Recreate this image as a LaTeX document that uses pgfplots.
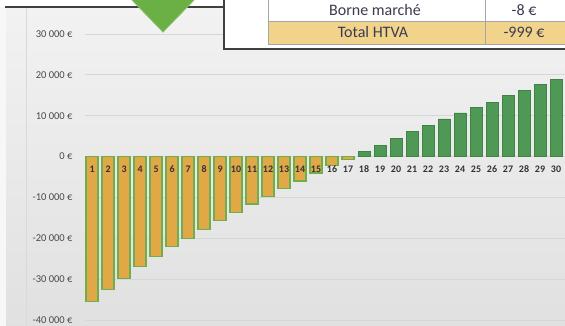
\documentclass[border=0pt]{standalone}
\usepackage{pgfplots}
\pgfplotsset{compat=1.18}
\usepackage{fontspec}
\setmainfont{Carlito}

\definecolor{barorange}{HTML}{E0A847}
\definecolor{baredge}{HTML}{6FAE4E}
\definecolor{bargreen}{HTML}{4F9856}
\definecolor{bargreenedge}{HTML}{3F8447}
\definecolor{gridgray}{HTML}{D6D6D6}
\definecolor{labelgray}{HTML}{4A4A4A}
\definecolor{tabletan}{HTML}{F2D38C}
\definecolor{tabletext}{HTML}{3B3B4F}
\definecolor{arrowgreen}{HTML}{6BB045}

\pgfplotsset{
  chartbox/.style={
    at={(85pt,6pt)}, anchor=south west,
    scale only axis, width=480pt, height=286pt,
    xmin=0.56, xmax=30.56, ymin=-40000, ymax=30000,
    axis line style={draw=none},
    major tick length=0pt,
    scaled y ticks=false,
  },
}

\begin{document}
\begin{tikzpicture}[x=1pt,y=1pt]
\useasboundingbox (0,0) rectangle (565,326);
\begin{scope}
\clip (0,0) rectangle (565,326);
% chart background
\shade[top color=white!95!black, bottom color=white!88!black] (0,0) rectangle (565,326);
\fill[white!97!black] (0,0) rectangle (6,319);
\draw[white!85!black, line width=0.6pt] (26,0) -- (26,319);

% bars, grid and euro labels
\begin{axis}[
  chartbox,
  ymajorgrids, grid style={gridgray, line width=0.8pt},
  ytick={-40000,-30000,-20000,-10000,0,10000,20000,30000},
  yticklabels={-40~000~€,-30~000~€,-20~000~€,-10~000~€,0~€,10~000~€,20~000~€,30~000~€},
  yticklabel style={font=\fontsize{10.5}{11}\selectfont, text=labelgray, anchor=east, xshift=-9pt},
  xtick=\empty,
  ybar, bar width=12pt,
]
\addplot[bar shift=0pt, fill=barorange, draw=baredge, line width=1.2pt] coordinates {
  (1,-35400) (2,-32600) (3,-29800) (4,-27000) (5,-24400) (6,-22100)
  (7,-20100) (8,-17800) (9,-15700) (10,-13700) (11,-11600) (12,-9800)
  (13,-7800) (14,-6000) (15,-4000) (16,-2200) (17,-700)};
\addplot[bar shift=0pt, fill=bargreen, draw=bargreenedge, line width=0.6pt] coordinates {
  (18,1300) (19,2800) (20,4500) (21,6100) (22,7600) (23,9200) (24,10700)
  (25,12000) (26,13300) (27,14900) (28,16200) (29,17600) (30,18800)};
\end{axis}

% category numbers on the zero line, drawn over the bars
\begin{axis}[
  chartbox,
  axis x line*=middle, axis y line=none,
  hide obscured x ticks=false,
  ytick=\empty,
  xtick={1,...,30},
  xticklabels={1,2,3,4,5,6,7,8,9,10,11,12,13,14,15,16,17,18,19,20,21,22,23,24,25,26,27,28,29,30},
  xticklabel style={font=\fontsize{10}{11}\selectfont\bfseries, text=black!80, inner sep=1pt, yshift=-8pt},
]
\end{axis}

% strip above the chart
\fill[white] (0,319) rectangle (224,326);
\draw[black!75, line width=1.8pt] (5,319) -- (224,319);

% table overlay
\fill[white] (224,277) rectangle (566,327);
\draw[black!75, line width=1.6pt] (224,327) -- (224,277) -- (566,277);
\fill[tabletan] (268,282) rectangle (566,305);
\draw[black!35, line width=0.8pt] (268,327) -- (268,282) -- (566,282);
\draw[black!35, line width=0.8pt] (268,305) -- (566,305);
\draw[black!35, line width=0.8pt] (485,327) -- (485,282);
\node[text=tabletext, font=\fontsize{16}{18}\selectfont] at (375,315.5) {Borne marché};
\node[text=tabletext, font=\fontsize{16}{18}\selectfont] at (373,293.5) {Total HTVA};
\node[text=tabletext, font=\fontsize{16}{18}\selectfont] at (524,315.5) {-8 €};
\node[text=tabletext, font=\fontsize{16}{18}\selectfont] at (524,293.5) {-999 €};

% green arrow tip
\fill[arrowgreen, draw=arrowgreen!80!white, line width=0.8pt] (127,331) -- (199,331) -- (163,294) -- cycle;
\end{scope}
\end{tikzpicture}
\end{document}
